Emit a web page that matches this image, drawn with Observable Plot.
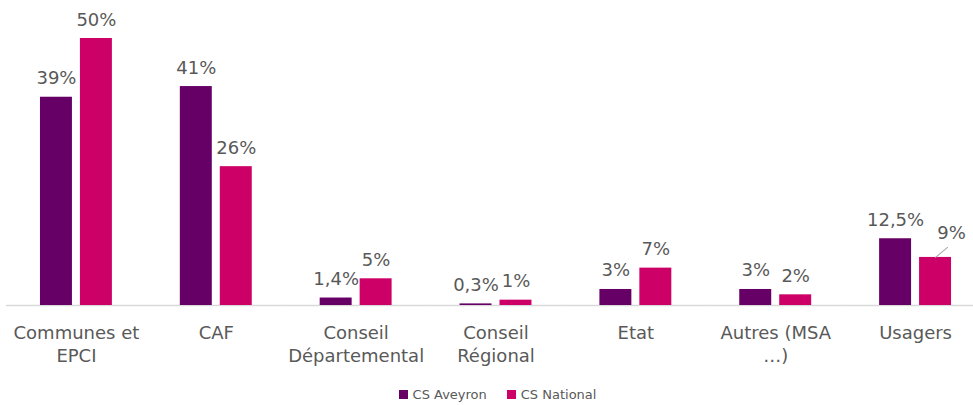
<!DOCTYPE html>
<html>
<head>
<meta charset="utf-8">
<script src="https://cdn.jsdelivr.net/npm/d3@7"></script>
<script src="https://cdn.jsdelivr.net/npm/@observablehq/plot@0.6"></script>
<style>
  body { margin: 0; background: #fff; font-family: "DejaVu Sans", sans-serif; }
  #chart svg { display: block; overflow: visible; }
  .legend { display: flex; justify-content: center; align-items: center; gap: 20px; height: 22px; padding-left: 22px; font-size: 13px; color: #595959; }
  .legend span.sw { display: inline-block; width: 9px; height: 9px; margin-right: 5px; }
</style>
</head>
<body>
<div id="chart"></div>
<script>
const categories = ["Communes et\nEPCI", "CAF", "Conseil\nDépartemental", "Conseil\nRégional", "Etat", "Autres (MSA\n…)", "Usagers"];
const series = ["CS Aveyron", "CS National"];
const aveyron = [39, 41, 1.4, 0.3, 3, 3, 12.5];
const national = [50, 26, 5, 1, 7, 2, 9];
const colors = ["#660066", "#CC0066"];

const data = categories.flatMap((c, i) => [
  {category: c, series: series[0], value: aveyron[i]},
  {category: c, series: series[1], value: national[i]}
]);
const fmt = v => String(v).replace(".", ",") + "%";
const isLeader = d => d.category === categories[6] && d.series === series[1];

const chart = Plot.plot({
  width: 973,
  height: 383,
  marginLeft: 6,
  marginRight: -12,
  marginTop: 38,
  marginBottom: 78,
  fx: {domain: categories, padding: 0, round: false, label: null},
  x: {domain: series, paddingInner: 0.2, paddingOuter: 0.85, round: false, axis: null},
  y: {domain: [0, 50], axis: null},
  color: {domain: series, range: colors},
  style: {fontFamily: "DejaVu Sans", color: "#595959", background: "#fff"},
  marks: [
    Plot.ruleY([0], {stroke: "#d9d9d9", strokeWidth: 1.5}),
    Plot.barY(data, {fx: "category", x: "series", y: "value", fill: "series"}),
    Plot.text(data.filter(d => !isLeader(d)), {fx: "category", x: "series", y: "value", text: d => fmt(d.value), lineAnchor: "bottom", dy: -13, fontSize: 18, fill: "#595959"}),
    Plot.text(data.filter(isLeader), {fx: "category", x: "series", y: "value", text: d => fmt(d.value), lineAnchor: "bottom", dy: -18, dx: 16, fontSize: 18, fill: "#595959"}),
    Plot.vector(data.filter(isLeader), {fx: "category", x: "series", y: "value", length: 15.6, rotate: 50, anchor: "start", stroke: "#a6a6a6", strokeWidth: 1,
      shape: {draw(context, l) { context.moveTo(0, 0); context.lineTo(0, -l); }}}),
    Plot.axisFx({anchor: "bottom", tickSize: 0, tickPadding: 17, fontSize: 18, lineHeight: 1.27, label: null, fill: "#595959"})
  ]
});
document.getElementById("chart").appendChild(chart);

const legend = document.createElement("div");
legend.className = "legend";
series.forEach((s, i) => {
  const item = document.createElement("div");
  item.innerHTML = `<span class="sw" style="background:${colors[i]}"></span>${s}`;
  legend.appendChild(item);
});
document.body.appendChild(legend);
</script>
</body>
</html>
